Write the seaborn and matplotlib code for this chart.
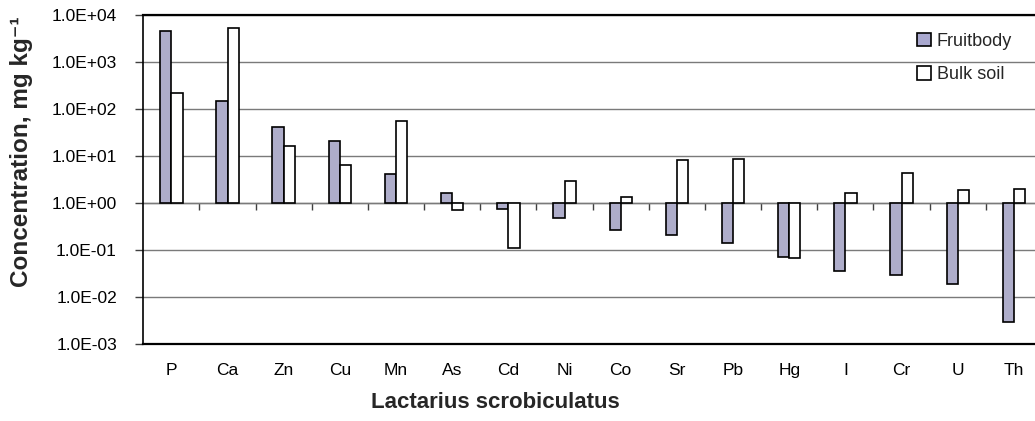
import numpy as np
import pandas as pd
import matplotlib
matplotlib.use("Agg")
import matplotlib.pyplot as plt
from matplotlib.patches import Patch
from matplotlib.ticker import FixedLocator, FuncFormatter, NullLocator
import seaborn as sns

# Element concentrations (mg kg^-1) in Lactarius scrobiculatus and its soil
elements = ["P", "Ca", "Zn", "Cu", "Mn", "As", "Cd", "Ni", "Co", "Sr",
            "Pb", "Hg", "I", "Cr", "U", "Th"]
fruitbody = [4500, 143, 40, 20.7, 4.1, 1.62, 0.73, 0.46, 0.26, 0.207,
             0.138, 0.069, 0.0345, 0.029, 0.0186, 0.0029]
bulk_soil = [215, 5250, 16.3, 6.3, 54, 0.686, 0.107, 2.88, 1.31, 7.9,
             8.5, 0.065, 1.62, 4.3, 1.83, 1.95]
series_names = ["Fruitbody", "Bulk soil"]
y_ticks = [1e-3, 1e-2, 1e-1, 1e0, 1e1, 1e2, 1e3, 1e4]

df = pd.DataFrame({
    "element": elements * 2,
    "value": fruitbody + bulk_soil,
    "sample": [series_names[0]] * len(elements) + [series_names[1]] * len(elements),
})

sns.set_theme(style="white")
plt.rcParams["font.family"] = ["Liberation Sans", "DejaVu Sans"]

fill_fruit = "#A9A8CF"
fill_soil = "#FFFFFF"

fig = plt.figure(figsize=(10.35, 4.21), dpi=100)
W, H = 1035, 421
x0, x1, y_top, y_bot = 143.3, 1042.0, 14.5, 343.7
ax = fig.add_axes([x0 / W, 1 - y_bot / H, (x1 - x0) / W, (y_bot - y_top) / H])

sns.barplot(data=df, x="element", y="value", hue="sample",
            order=elements, hue_order=series_names,
            palette=[fill_fruit, fill_soil], width=0.4, gap=0,
            edgecolor="black", linewidth=1.2, legend=False, ax=ax, zorder=3)

# Bars grow up or down from the 1.0 baseline
baseline = 1.0
for container in ax.containers:
    for bar in container:
        v = bar.get_height()
        bar.set_y(baseline)
        bar.set_height(v - baseline)

ax.set_yscale("log")
ymin, ymax = y_ticks[0], y_ticks[-1]
ax.set_ylim(ymin, ymax)
ax.set_xlim(-0.5, len(elements) - 0.5)

ax.yaxis.set_major_locator(FixedLocator(y_ticks))
ax.yaxis.set_minor_locator(NullLocator())
ax.yaxis.set_major_formatter(FuncFormatter(lambda v, p: f"{v:.1E}"))
ax.grid(axis="y", color="#7a7a7a", linewidth=1.0, zorder=0)
ax.grid(axis="x", visible=False)
ax.set_axisbelow(True)

for side in ["top", "left", "bottom"]:
    ax.spines[side].set_visible(True)
    ax.spines[side].set_color("black")
ax.spines["top"].set_linewidth(1.6)
ax.spines["bottom"].set_linewidth(1.6)
ax.spines["left"].set_linewidth(1.2)
ax.spines["right"].set_visible(False)

ax.tick_params(axis="y", which="major", left=True, direction="out", length=6,
               width=1.0, color="#404040", pad=13, labelsize=12.5,
               labelcolor="black")
ax.tick_params(axis="x", which="both", bottom=False, length=0, pad=14,
               labelsize=12.5, labelcolor="black")

# Category separator ticks along the 1.0 baseline
frac = (np.log10(baseline) - np.log10(ymin)) / (np.log10(ymax) - np.log10(ymin))
sec = ax.secondary_xaxis(frac)
sec.set_xticks(np.arange(len(elements)) + 0.5)
sec.set_xticklabels([])
sec.tick_params(axis="x", direction="out", length=5, width=1.0,
                color="#404040", bottom=True, top=False)
sec.spines["bottom"].set_color("#7a7a7a")
sec.spines["bottom"].set_linewidth(1.0)
for side in ["top", "left", "right"]:
    sec.spines[side].set_visible(False)

ax.set_xlabel("Lactarius scrobiculatus", fontsize=16, fontweight="bold",
              va="center")
ax.xaxis.set_label_coords((495 - x0) / (x1 - x0), (y_bot - 403) / (y_bot - y_top))
ax.set_ylabel("Concentration, mg kg\u207b\u00b9", fontsize=17.5,
              fontweight="bold", va="center")
ax.yaxis.set_label_coords((22 - x0) / (x1 - x0), (y_bot - 152) / (y_bot - y_top))

handles = [Patch(facecolor=fill_fruit, edgecolor="black", linewidth=1.2),
           Patch(facecolor=fill_soil, edgecolor="black", linewidth=1.2)]
ax.legend(handles, series_names, loc="upper left",
          bbox_to_anchor=((917 - x0) / (x1 - x0), (y_bot - 33) / (y_bot - y_top)),
          frameon=False, fontsize=13, handlelength=0.75, handleheight=0.75,
          handletextpad=0.35, labelspacing=0.9, borderpad=0, borderaxespad=0)

fig.savefig("out.png", dpi=100)
